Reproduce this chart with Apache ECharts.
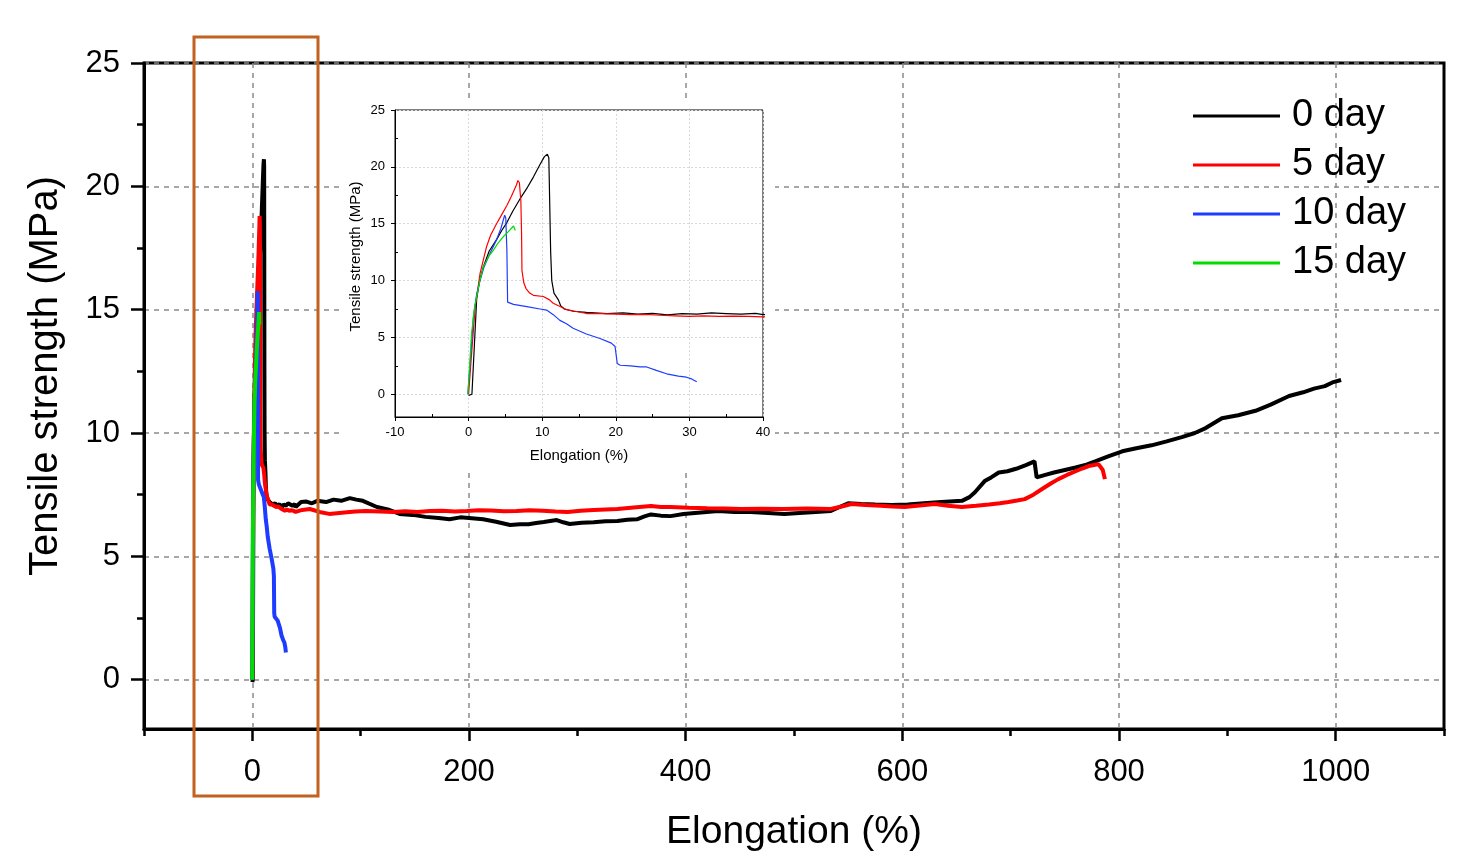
<!DOCTYPE html>
<html><head><meta charset="utf-8">
<script src="https://cdn.jsdelivr.net/npm/echarts@6/dist/echarts.min.js"></script>
<style>html,body{margin:0;padding:0;background:#fff}#c{width:1468px;height:867px}</style>
</head><body><div id="c"></div>
<script>
// ---- tick labels ----
const xMajorTicks = [0, 200, 400, 600, 800, 1000];
const xMinorTicks = [-100, 100, 300, 500, 700, 900, 1100];
const yMajorTicks = [0, 5, 10, 15, 20, 25];
const yMinorTicks = [2.5, 7.5, 12.5, 17.5, 22.5];
const insetXMajorTicks = [-10, 0, 10, 20, 30, 40];
const insetXMinorTicks = [-5, 5, 15, 25, 35];
const insetYMajorTicks = [0, 5, 10, 15, 20, 25];
const insetYMinorTicks = [2.5, 7.5, 12.5, 17.5, 22.5];

// ---- categories ----
const seriesNames = ['0 day', '5 day', '10 day', '15 day'];
const seriesColors = ['#000000', '#FF0000', '#1E3CFF', '#00DD00'];

// ---- series values [elongation %, tensile strength MPa] ----
const day0 = [
  [0.0,-0.1],[0.45,0],[0.8,4.5],[1.1,8.4],[1.5,10.0],[2.0,11.2],[2.8,12.6],[3.8,13.6],[4.5,14.4],
  [5.2,15.1],[6.0,16.1],[7.0,17.2],[8.0,18.2],[8.8,19.1],[9.7,20.2],[10.3,20.9],[10.7,21.1],[10.9,20.8],
  [11.0,17.5],[11.15,12.5],[11.3,10.0],[11.6,8.9],[12.2,8.3],[12.5,7.8],[13.0,7.5],[14.2,7.3],[16,7.2],
  [18.8,7.1],[21,7.15],[23,7.05],[25,7.12],[27,6.98],[29,7.1],[31,7.05],[33,7.15],[35,7.1],[37,7.05],
  [39,7.12],[40,7.0],[45,7.2],[50,7.22],[55,7.15],[60,7.25],[68,7.2],[75,7.3],[82,7.25],[90,7.36],[96,7.3],
  [102,7.25],[115,7.0],[125,6.9],[136,6.72],[148,6.68],[160,6.6],[172,6.55],[182,6.5],[192,6.58],[200,6.55],
  [213,6.5],[225,6.4],[238,6.27],[247,6.3],[255,6.3],[262,6.35],[269,6.39],[281,6.47],[287,6.38],
  [293,6.31],[304,6.36],[315,6.38],[326,6.42],[337,6.43],[346,6.48],[355,6.5],[362,6.62],[368,6.7],[377,6.65],
  [386,6.63],[398,6.72],[414,6.78],[430,6.84],[445,6.8],[460,6.8],[476,6.76],[491,6.72],[505,6.76],[520,6.8],
  [534,6.84],[542,7.0],[550,7.15],[562,7.12],[575,7.1],[590,7.08],[605,7.1],[620,7.15],[636,7.2],[655,7.25],
  [662,7.4],[667,7.6],[676,8.05],[682,8.2],[689,8.4],[697,8.45],[705,8.55],[714,8.7],[722,8.85],[724,8.2],
  [732,8.3],[740,8.4],[750,8.5],[760,8.6],[770,8.72],[778,8.85],[790,9.05],[803,9.26],[816,9.38],[830,9.5],
  [844,9.66],[858,9.83],[870,10.0],[880,10.2],[895,10.6],[910,10.72],[926,10.9],[940,11.15],[957,11.5],
  [970,11.65],[980,11.8],[990,11.9],[997,12.05],[1005,12.15]
];
const day5 = [
  [0.0,0],[0.4,3.5],[0.9,7.7],[1.55,10.6],[2.45,13.0],[3.0,14.0],[3.8,15.0],[4.5,15.8],[5.2,16.6],
  [5.8,17.4],[6.5,18.4],[6.7,18.8],[6.9,18.6],[7.1,17.0],[7.2,14.0],[7.25,10.9],[7.5,9.8],[7.8,9.3],
  [8.3,8.9],[8.8,8.7],[10.15,8.6],[11.0,8.3],[11.5,8.0],[12.5,7.7],[13.3,7.45],[14.5,7.3],[16.0,7.1],
  [18,7.1],[20,7.05],[22,7.0],[24,7.02],[26,6.95],[28,6.9],[30,6.85],[32,6.9],[34,6.85],[36,6.87],
  [38,6.85],[40,6.8],[46,6.88],[53,6.92],[62,6.8],[71,6.72],[78,6.75],[85,6.78],[95,6.82],[105,6.84],
  [118,6.82],[130,6.8],[141,6.83],[152,6.8],[164,6.84],[175,6.85],[187,6.82],[198,6.84],[209,6.87],[220,6.86],
  [232,6.83],[244,6.84],[256,6.87],[268,6.85],[280,6.82],[291,6.8],[303,6.85],[315,6.88],[326,6.9],[337,6.92],
  [352,6.98],[368,7.04],[377,7.0],[386,7.0],[403,6.97],[420,6.95],[436,6.94],[451,6.92],[470,6.93],[490,6.92],
  [512,6.94],[534,6.92],[544,7.02],[553,7.12],[566,7.08],[580,7.05],[591,7.02],[602,7.0],[616,7.06],[630,7.12],
  [642,7.05],[655,7.0],[668,7.05],[680,7.1],[690,7.15],[698,7.2],[706,7.26],[713,7.32],[721,7.5],[729,7.73],
  [737,7.95],[744,8.13],[752,8.3],[760,8.45],[766,8.56],[772,8.66],[777,8.7],[781,8.74],[785,8.5],[787,8.13]
];
const day10 = [
  [-0.1,0],[0.3,3.5],[0.65,6.8],[1.1,8.8],[1.55,10.0],[2.1,11.2],[2.7,12.1],[3.8,13.6],[4.4,14.6],
  [4.9,15.75],[5.05,15.5],[5.2,12.7],[5.3,8.1],[6.1,7.9],[7.9,7.7],[9.7,7.5],[10.6,7.4],[11.5,7.0],
  [12.4,6.5],[13.3,6.2],[14.2,5.8],[16.0,5.3],[17.85,4.9],[19.4,4.5],[19.9,4.2],[20.2,2.7],[20.6,2.55],
  [22,2.5],[23.3,2.4],[24.2,2.4],[25.5,2.1],[26.9,1.8],[28.5,1.6],[29.6,1.5],[30.3,1.35],[31.0,1.1]
];
const day15 = [
  [-0.1,0],[0.4,5.3],[0.8,7.6],[1.1,8.6],[1.5,9.9],[2.0,11.2],[2.7,12.1],[3.4,12.7],[4.0,13.3],
  [4.7,13.85],[5.4,14.3],[6.1,14.8],[6.25,14.9],[6.35,14.4]
];
const seriesData = [day0, day5, day10, day15];

const FONT = '"Liberation Sans", Arial, sans-serif';
const chart = echarts.init(document.getElementById('c'), null, {renderer: 'canvas'});

function majorAxis(gridIndex, min, max, ticks, opts) {
  return Object.assign({
    type: 'value', gridIndex, min, max, z: opts.z,
    axisLine: {show: true, onZero: false, lineStyle: {color: '#000', width: opts.lw}},
    axisTick: {show: true, customValues: ticks, length: opts.tl, lineStyle: {color: '#000', width: opts.tw}},
    axisLabel: {show: true, customValues: ticks, color: '#000', fontFamily: FONT, fontSize: opts.fs, margin: opts.margin,
      formatter: v => String(v)},
    splitLine: {show: true, lineStyle: opts.split},
    minorTick: {show: false}
  }, opts.extra || {});
}
function minorAxis(gridIndex, min, max, ticks, opts) {
  return {
    type: 'value', gridIndex, min, max, z: opts.z, position: opts.position,
    axisLine: {show: false, onZero: false},
    axisTick: {show: true, inside: !!opts.inside, customValues: ticks, length: opts.tl, lineStyle: {color: '#000', width: opts.tw}},
    axisLabel: {show: false},
    splitLine: {show: false}
  };
}

const mainSplit = {color: '#8a8a8a', width: 1.5, type: [5, 5]};
const insetSplit = {color: '#d9d9d9', width: 1, type: [2, 2]};

const series = [];
seriesNames.forEach((n, i) => {
  series.push({
    name: n, type: 'line', xAxisIndex: 0, yAxisIndex: 0, data: seriesData[i],
    symbol: 'none', showSymbol: false, clip: true, z: 3,
    lineStyle: {color: seriesColors[i], width: 4}, itemStyle: {color: seriesColors[i]}
  });
});
seriesNames.forEach((n, i) => {
  series.push({
    name: n, type: 'line', xAxisIndex: 2, yAxisIndex: 2, data: seriesData[i],
    symbol: 'none', showSymbol: false, clip: true, z: 4,
    lineStyle: {color: seriesColors[i], width: 1.2}, itemStyle: {color: seriesColors[i]}
  });
});

chart.setOption({
  animation: false,
  backgroundColor: '#fff',
  grid: [
    {left: 144, top: 63, width: 1300, height: 666, show: true, borderColor: '#000', borderWidth: 3, backgroundColor: 'transparent', z: 0},
    {left: 395, top: 110, width: 368, height: 307, show: true, borderColor: '#000', borderWidth: 1, backgroundColor: 'transparent', z: 2}
  ],
  xAxis: [
    majorAxis(0, -100, 1100, xMajorTicks, {z: 0, lw: 3, tl: 12, tw: 2.5, fs: 31, margin: 28, split: mainSplit,
      extra: {position: 'bottom', name: 'Elongation (%)', nameLocation: 'middle', nameGap: 84,
        nameTextStyle: {color: '#000', fontFamily: FONT, fontSize: 39}}}),
    minorAxis(0, -100, 1100, xMinorTicks, {z: 0, tl: 7, tw: 2.5, position: 'bottom'}),
    majorAxis(1, -10, 40, insetXMajorTicks, {z: 2, lw: 1, tl: 4, tw: 1, fs: 13, margin: 9, split: insetSplit,
      extra: {position: 'bottom', name: 'Elongation (%)', nameLocation: 'middle', nameGap: 31,
        nameTextStyle: {color: '#000', fontFamily: FONT, fontSize: 15}}}),
    minorAxis(1, -10, 40, insetXMinorTicks, {z: 2, tl: 3, tw: 1, position: 'bottom', inside: true})
  ],
  yAxis: [
    majorAxis(0, -2, 25, yMajorTicks, {z: 0, lw: 3, tl: 13, tw: 2.5, fs: 31, margin: 24, split: mainSplit,
      extra: {position: 'left', name: 'Tensile strength (MPa)', nameLocation: 'middle', nameGap: 78,
        nameTextStyle: {color: '#000', fontFamily: FONT, fontSize: 40, padding: [0, 0, 0, 40]}}}),
    minorAxis(0, -2, 25, yMinorTicks, {z: 0, tl: 7, tw: 2.5, position: 'left'}),
    majorAxis(1, -2, 25, insetYMajorTicks, {z: 2, lw: 1, tl: 4, tw: 1, fs: 13, margin: 10, split: insetSplit,
      extra: {position: 'left', name: 'Tensile strength (MPa)', nameLocation: 'middle', nameGap: 32,
        nameTextStyle: {color: '#000', fontFamily: FONT, fontSize: 15, padding: [0, 0, 0, 14]}}}),
    minorAxis(1, -2, 25, insetYMinorTicks, {z: 2, tl: 3, tw: 1, position: 'left', inside: true})
  ],
  legend: {
    data: seriesNames, orient: 'vertical', left: 1193, top: 96, padding: 0,
    icon: 'rect', itemWidth: 87, itemHeight: 3, itemGap: 9,
    textStyle: {color: '#000', fontFamily: FONT, fontSize: 38, lineHeight: 40, padding: [0, 0, 0, 7]},
    selectedMode: false
  },
  graphic: [
    {type: 'rect', z: 1, silent: true, shape: {x: 340, y: 98, width: 435, height: 372}, style: {fill: '#fff'}},
    {type: 'rect', z: 10, silent: true, shape: {x: 194, y: 37, width: 124, height: 759}, style: {fill: 'none', stroke: '#C2621E', lineWidth: 3}}
  ],
  series
});
</script></body></html>
